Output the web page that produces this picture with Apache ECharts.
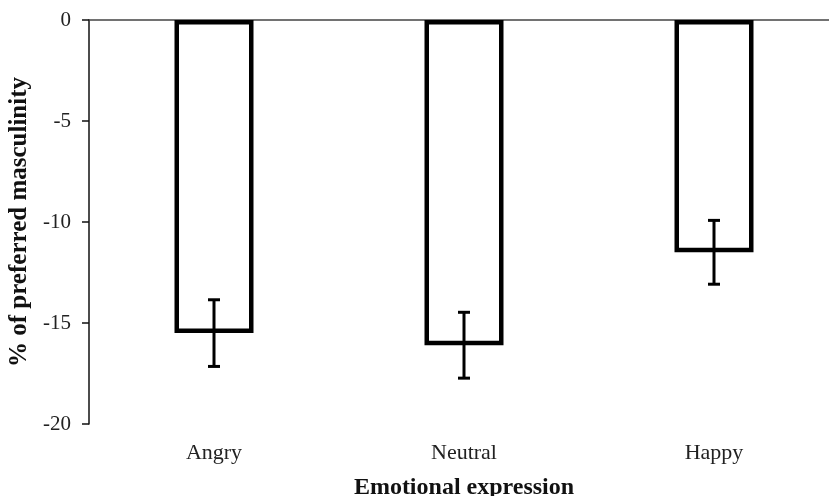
<!DOCTYPE html>
<html>
<head>
<meta charset="utf-8">
<script src="https://cdn.jsdelivr.net/npm/echarts@6/dist/echarts.min.js"></script>
<style>
  html, body { margin: 0; padding: 0; background: #fff; }
  #chart { width: 829px; height: 496px; }
</style>
</head>
<body>
<div id="chart"></div>
<script>
// categories and values
const categories = ['Angry', 'Neutral', 'Happy']
const means = [-15.5, -16.1, -11.5]
const errors = [1.65, 1.63, 1.58]
const yTicks = { min: -20, max: 0, step: 5 }

const FONT = 'Liberation Serif'

const chart = echarts.init(document.getElementById('chart'))

// error bar drawing with caps
function renderError (params, api) {
  const x = api.value(0)
  const lo = api.coord([x, api.value(1)])
  const hi = api.coord([x, api.value(2)])
  const cap = 6
  const style = { stroke: '#000', lineWidth: 3 }
  return {
    type: 'group',
    children: [
      { type: 'line', shape: { x1: lo[0], y1: lo[1], x2: hi[0], y2: hi[1] }, style },
      { type: 'line', shape: { x1: lo[0] - cap, y1: lo[1], x2: lo[0] + cap, y2: lo[1] }, style },
      { type: 'line', shape: { x1: hi[0] - cap, y1: hi[1], x2: hi[0] + cap, y2: hi[1] }, style }
    ]
  }
}

const errorData = means.map((m, i) => [i, m - errors[i], m + errors[i]])

chart.setOption({
  animation: false,
  backgroundColor: '#fff',
  grid: { left: 89, right: -10, top: 20, bottom: 72, containLabel: false, outerBoundsMode: 'none' },
  xAxis: [
    {
      // line along y = 0 at the top
      type: 'category',
      data: categories,
      position: 'top',
      axisLine: { show: true, lineStyle: { color: '#444', width: 1.5 } },
      axisTick: { show: false },
      axisLabel: { show: false }
    },
    {
      // labels at the bottom
      type: 'category',
      data: categories,
      position: 'bottom',
      axisLine: { show: false },
      axisTick: { show: false },
      axisLabel: { margin: 18, fontFamily: FONT, fontSize: 22, color: '#222' },
      name: 'Emotional expression',
      nameLocation: 'middle',
      nameGap: 52,
      nameTextStyle: { fontFamily: FONT, fontSize: 24, fontWeight: 'bold', color: '#111' }
    }
  ],
  yAxis: {
    type: 'value',
    min: yTicks.min,
    max: yTicks.max,
    interval: yTicks.step,
    splitLine: { show: false },
    axisLine: { show: true, lineStyle: { color: '#111', width: 1.5 } },
    axisTick: { show: true, inside: false, length: 7, lineStyle: { color: '#111', width: 1.5 } },
    axisLabel: { margin: 18, fontFamily: FONT, fontSize: 21, color: '#222' },
    name: '% of preferred masculinity',
    nameLocation: 'middle',
    nameGap: 55,
    nameTextStyle: { fontFamily: FONT, fontSize: 25, fontWeight: 'bold', color: '#111' }
  },
  series: [
    {
      type: 'bar',
      data: means,
      barWidth: 79,
      itemStyle: { color: '#fff', borderColor: '#000', borderWidth: 4.5 }
    },
    {
      type: 'custom',
      data: errorData,
      renderItem: renderError,
      encode: { x: 0, y: [1, 2] },
      z: 10
    }
  ]
})
</script>
</body>
</html>
